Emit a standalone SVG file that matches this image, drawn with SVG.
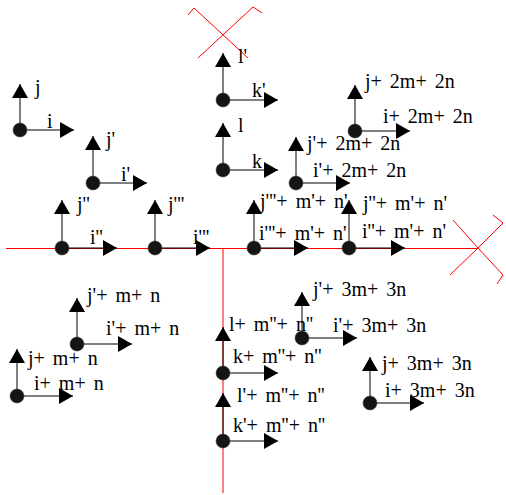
<svg xmlns="http://www.w3.org/2000/svg" width="506" height="495" viewBox="0 0 506 495" font-family="Liberation Serif, Times New Roman, serif" font-size="20" word-spacing="3">
<style>
.ax{stroke:#ff0000;stroke-width:1;fill:none}
.sh{stroke:#000;stroke-width:1;fill:none}
.up{marker-end:url(#ah)}
.dot{fill:#151515;stroke:#333;stroke-width:0.5}
text{fill:#000}
</style>
<defs>
<marker id="ah" markerUnits="userSpaceOnUse" markerWidth="14" markerHeight="16" refX="14" refY="8" orient="auto">
<path d="M0,0 L14,8 L0,16 z" fill="#000"/>
</marker>
</defs>
<rect width="506" height="495" fill="#fff"/>
<g id="connectors">
<line class="ax" x1="6" y1="248.5" x2="478" y2="248.5"/>
<line class="ax" x1="223" y1="248" x2="223" y2="493"/>
<polyline class="ax" points="188,15 194,8 248,58"/>
<polyline class="ax" points="262,13 253,7 198,58"/>
<polyline class="ax" points="453,220 478,248 503,275 497,284"/>
<polyline class="ax" points="493,215 503,223 478,248 450,275"/>
</g>
<g id="f1"><line class="sh up" x1="20" y1="130" x2="20" y2="84"/><line class="sh up" x1="20" y1="130" x2="74" y2="130"/><circle class="dot" cx="20" cy="130" r="7"/><text x="35" y="94">j</text><text x="47" y="128">i</text></g>
<g id="f2"><line class="sh up" x1="93" y1="183" x2="93" y2="136"/><line class="sh up" x1="93" y1="183" x2="147" y2="183"/><circle class="dot" cx="93" cy="183" r="7"/><text x="106" y="146">j'</text><text x="121" y="181">i'</text></g>
<g id="f3"><line class="sh up" x1="62" y1="248" x2="62" y2="200"/><line class="sh up" x1="62" y1="248" x2="117" y2="248"/><circle class="dot" cx="62" cy="248" r="7"/><text x="77" y="211">j''</text><text x="90" y="244">i''</text></g>
<g id="f4"><line class="sh up" x1="155" y1="248" x2="155" y2="200"/><line class="sh up" x1="155" y1="248" x2="210" y2="248"/><circle class="dot" cx="155" cy="248" r="7"/><text x="168" y="211">j'''</text><text x="193" y="244">i'''</text></g>
<g id="f5"><line class="sh up" x1="223" y1="100" x2="223" y2="53"/><line class="sh up" x1="223" y1="100" x2="278" y2="100"/><circle class="dot" cx="223" cy="100" r="7"/><text x="238" y="63">l'</text><text x="252" y="97">k'</text></g>
<g id="f6"><line class="sh up" x1="223" y1="170" x2="223" y2="123"/><line class="sh up" x1="223" y1="170" x2="278" y2="170"/><circle class="dot" cx="223" cy="170" r="7"/><text x="238" y="132">l</text><text x="252" y="168">k</text></g>
<g id="f7"><line class="sh up" x1="296" y1="183" x2="296" y2="137"/><line class="sh up" x1="296" y1="183" x2="350" y2="183"/><circle class="dot" cx="296" cy="183" r="7"/><text x="307" y="150">j'+ 2m+ 2n</text><text x="313" y="177">i'+ 2m+ 2n</text></g>
<g id="f8"><line class="sh up" x1="355" y1="131" x2="355" y2="85"/><line class="sh up" x1="355" y1="131" x2="410" y2="131"/><circle class="dot" cx="355" cy="131" r="7"/><text x="365" y="88">j+ 2m+ 2n</text><text x="383" y="123">i+ 2m+ 2n</text></g>
<g id="f9"><line class="sh up" x1="254" y1="248" x2="254" y2="200"/><line class="sh up" x1="254" y1="248" x2="308" y2="248"/><circle class="dot" cx="254" cy="248" r="7"/><text x="260" y="208">j'''+ m'+ n'</text><text x="259" y="240">i'''+ m'+ n'</text></g>
<g id="f10"><line class="sh up" x1="349" y1="248" x2="349" y2="200"/><line class="sh up" x1="349" y1="248" x2="405" y2="248"/><circle class="dot" cx="349" cy="248" r="7"/><text x="363" y="210">j''+ m'+ n'</text><text x="362" y="238">i''+ m'+ n'</text></g>
<g id="f11"><line class="sh up" x1="77" y1="344" x2="77" y2="298"/><line class="sh up" x1="77" y1="344" x2="132" y2="344"/><circle class="dot" cx="77" cy="344" r="7"/><text x="87" y="302">j'+ m+ n</text><text x="106" y="335">i'+ m+ n</text></g>
<g id="f12"><line class="sh up" x1="17" y1="396" x2="17" y2="349"/><line class="sh up" x1="17" y1="396" x2="73" y2="396"/><circle class="dot" cx="17" cy="396" r="7"/><text x="28" y="365">j+ m+ n</text><text x="34" y="390">i+ m+ n</text></g>
<g id="f13"><line class="sh up" x1="223" y1="373" x2="223" y2="327"/><line class="sh up" x1="223" y1="373" x2="278" y2="373"/><circle class="dot" cx="223" cy="373" r="7"/><text x="229" y="331">l+ m''+ n''</text><text x="233" y="363">k+ m''+ n''</text></g>
<g id="f14"><line class="sh up" x1="223" y1="441" x2="223" y2="393"/><line class="sh up" x1="223" y1="441" x2="278" y2="441"/><circle class="dot" cx="223" cy="441" r="7"/><text x="237" y="402">l'+ m''+ n''</text><text x="233" y="432">k'+ m''+ n''</text></g>
<g id="f15"><line class="sh up" x1="302" y1="338" x2="302" y2="292"/><line class="sh up" x1="302" y1="338" x2="357" y2="338"/><circle class="dot" cx="302" cy="338" r="7"/><text x="313" y="296">j'+ 3m+ 3n</text><text x="333" y="332">i'+ 3m+ 3n</text></g>
<g id="f16"><line class="sh up" x1="370" y1="403" x2="370" y2="357"/><line class="sh up" x1="370" y1="403" x2="424" y2="403"/><circle class="dot" cx="370" cy="403" r="7"/><text x="382" y="370">j+ 3m+ 3n</text><text x="385" y="397">i+ 3m+ 3n</text></g>
</svg>
